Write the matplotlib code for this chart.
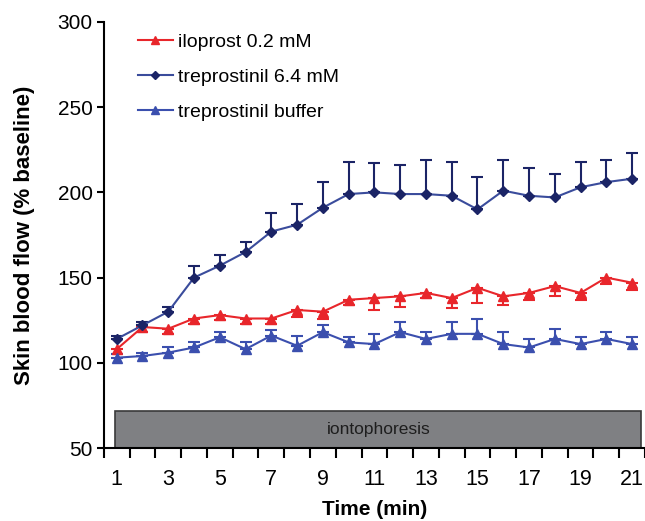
import numpy as np
import matplotlib
matplotlib.use("Agg")
import matplotlib.pyplot as plt
from matplotlib.patches import Rectangle
from matplotlib.lines import Line2D

plt.rcParams['font.family'] = ['Liberation Sans', 'DejaVu Sans']

# ==========================================
# DATA
# ==========================================
minutes = np.arange(1, 22)

iloprost = [108, 121, 120, 126, 128, 126, 126, 131, 130, 137, 138, 139, 141, 138, 144,
            139, 141, 145, 141, 150, 147]
iloprost_err = [3, 3, 3, 3, 3, 3, 3, 4, 4, 3, 7, 6, 3, 6, 9, 5, 4, 6, 4, 4, 4]

trep = [114, 122, 130, 150, 157, 165, 177, 181, 191, 199, 200, 199, 199, 198, 190,
        201, 198, 197, 203, 206, 208]
trep_err = [2, 2, 3, 7, 6, 6, 11, 12, 15, 19, 17, 17, 20, 20, 19, 18, 16, 14, 15, 13, 15]

buffer = [103, 104, 106, 109, 115, 108, 116, 110, 118, 112, 111, 118, 114, 117, 117,
          111, 109, 114, 111, 114, 111]
buffer_err = [2, 2, 3, 3, 3, 4, 3, 6, 4, 3, 6, 6, 4, 7, 9, 7, 5, 6, 4, 4, 4]

# iontophoresis bar
IONTO_START, IONTO_END, IONTO_TOP = 0.95, 21.35, 72

RED = '#e8262b'
NAVY_LINE = '#3a4c9c'
NAVY_MARK = '#1b2466'
BLUE = '#3b4fae'


def plot_series(ax, y, err, direction, color, mcolor, marker, ms):
    zeros = np.zeros(len(err))
    yerr = [err, zeros] if direction == 'down' else [zeros, err]
    ax.errorbar(minutes, y, yerr=yerr, color=color, ecolor=mcolor, elinewidth=1.5,
                capsize=4, capthick=1.5, marker=marker, ms=ms, mfc=mcolor, mec=mcolor,
                lw=1.5, zorder=3)
    return Line2D([], [], color=color, marker=marker, ms=ms - 1, mfc=mcolor, mec=mcolor, lw=1.5)


fig = plt.figure(figsize=(6.45, 5.21), dpi=100)
ax = fig.add_axes([0.161, 0.14, 0.839, 0.818])

h1 = plot_series(ax, iloprost, iloprost_err, 'down', RED, RED, '^', 7)
h2 = plot_series(ax, trep, trep_err, 'up', NAVY_LINE, NAVY_MARK, 'D', 5.5)
h3 = plot_series(ax, buffer, buffer_err, 'up', BLUE, BLUE, '^', 7)

ax.add_patch(Rectangle((IONTO_START, 50), IONTO_END - IONTO_START, IONTO_TOP - 50,
                       facecolor='#7f8083', edgecolor='#3a3a3a', lw=1.2, zorder=2))
ax.text((IONTO_START + IONTO_END) / 2, (50 + IONTO_TOP) / 2, 'iontophoresis',
        ha='center', va='center', fontsize=12.5, color='#1e1e1e', zorder=3)

ax.set_xlim(0.5, 21.5)
ax.set_ylim(50, 300)
ax.set_yticks(np.arange(50, 301, 50))
ax.set_xticks(np.arange(0.5, 22, 1))
ax.set_xticklabels([])
ax.set_xticks(minutes[::2], minor=True)
ax.set_xticklabels([str(m) for m in minutes[::2]], minor=True)
ax.tick_params(axis='x', which='major', direction='out', length=7, width=1.5)
ax.tick_params(axis='x', which='minor', length=0, labelsize=15.5, pad=15)
ax.tick_params(axis='y', direction='out', length=5, width=1.5, labelsize=15, pad=3)

for s in ['top', 'right']:
    ax.spines[s].set_visible(False)
for s in ['left', 'bottom']:
    ax.spines[s].set_linewidth(1.5)

ax.set_xlabel('Time (min)', fontsize=15, fontweight='bold', labelpad=7)
ax.set_ylabel('Skin blood flow (% baseline)', fontsize=16, fontweight='bold', labelpad=16)

ax.legend([h1, h2, h3], ['iloprost 0.2 mM', 'treprostinil 6.4 mM', 'treprostinil buffer'],
          loc='upper left', bbox_to_anchor=(0.063, 0.973), frameon=False, fontsize=14,
          handlelength=1.8, handletextpad=0.25, labelspacing=0.9, borderaxespad=0,
          borderpad=0)

fig.savefig('out.png', dpi=100)
